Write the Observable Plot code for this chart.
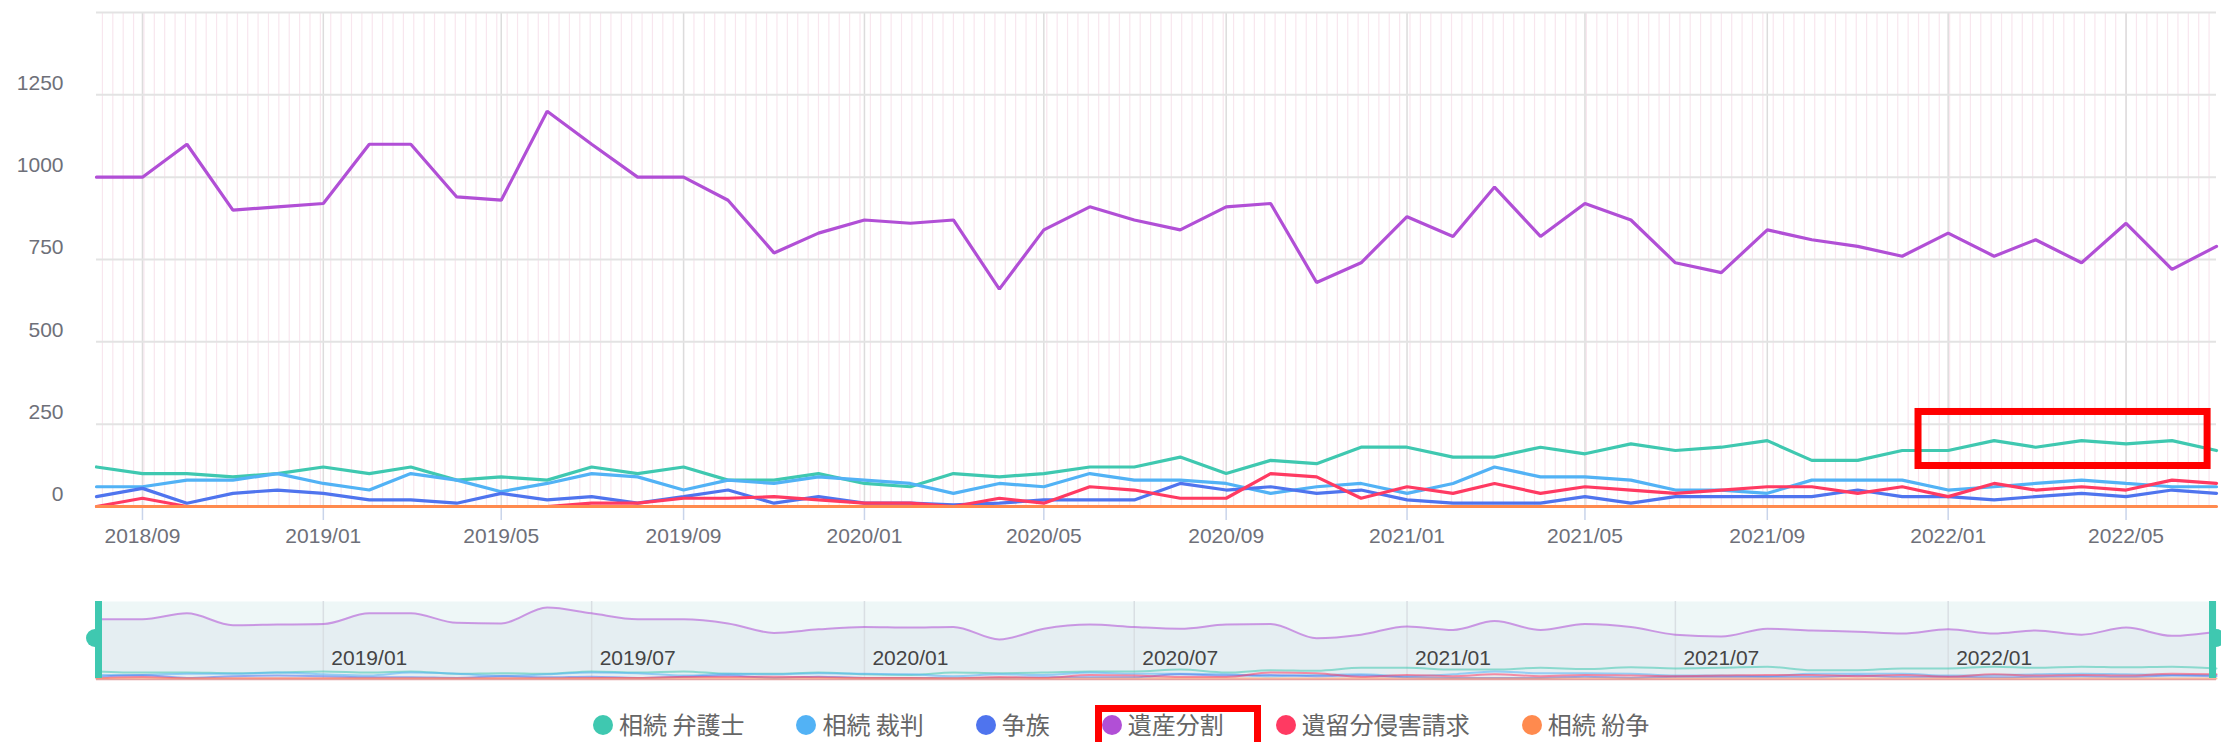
<!DOCTYPE html>
<html>
<head>
<meta charset="utf-8">
<script src="https://cdn.jsdelivr.net/npm/d3@7"></script>
<script src="https://cdn.jsdelivr.net/npm/@observablehq/plot@0.6"></script>
<style>
  html, body { margin: 0; padding: 0; background: #fff; }
  #root { position: relative; width: 2221px; height: 742px; overflow: hidden; font-family: "Liberation Sans", Arial, sans-serif; }
  #main { position: absolute; left: 0; top: 0; }
  #slider { position: absolute; left: 0; top: 590px; }
  .handle { position: absolute; background: #3fc8b0; }
  #legend { position: absolute; left: 593px; top: 711px; height: 26px; display: flex; align-items: center; gap: 52px;
            font-family: "Noto Sans CJK JP", "Noto Sans", sans-serif; font-size: 24px; line-height: 26px; color: #666; white-space: nowrap; }
  .item { position: relative; display: flex; align-items: center; height: 26px; }
  .dot { width: 20px; height: 20px; border-radius: 50%; margin-right: 6px; transform: translateY(1px); }
  .item.hl::after { content: ""; position: absolute; left: -7px; top: -6px; right: -37px; bottom: -40px; border: 7px solid #ff0000; }
</style>
</head>
<body>
<div id="root">
  <div id="main"></div>
  <div id="slider"></div>
  <div class="handle" style="left:95px;top:601px;width:7px;height:77px;"></div>
  <div class="handle" style="left:86px;top:629px;width:9px;height:18px;border-radius:9px 0 0 9px;"></div>
  <div class="handle" style="left:2209px;top:601px;width:7px;height:77px;"></div>
  <div class="handle" style="left:2216px;top:629px;width:9px;height:18px;border-radius:0 9px 9px 0;"></div>
  <div id="legend"></div>
</div>
<script>
// ---------- data ----------
const months = [
  "2018-08","2018-09","2018-10","2018-11","2018-12",
  "2019-01","2019-02","2019-03","2019-04","2019-05","2019-06","2019-07","2019-08","2019-09","2019-10","2019-11","2019-12",
  "2020-01","2020-02","2020-03","2020-04","2020-05","2020-06","2020-07","2020-08","2020-09","2020-10","2020-11","2020-12",
  "2021-01","2021-02","2021-03","2021-04","2021-05","2021-06","2021-07","2021-08","2021-09","2021-10","2021-11","2021-12",
  "2022-01","2022-02","2022-03","2022-04","2022-05","2022-06","2022-07"
];
const seriesNames = ["相続 弁護士", "相続 裁判", "争族", "遺産分割", "遺留分侵害請求", "相続 紛争"];
const seriesColors = ["#3fc8b0", "#52b2f5", "#4f74ee", "#b14fd6", "#ff3a62", "#ff8a4e"];

const bengoshi = [120,100,100,90,100,120,100,120,80,90,80,120,100,120,80,80,100,70,60,100,90,100,120,120,150,100,140,130,180,180,150,150,180,160,190,170,180,200,140,140,170,170,200,180,200,190,200,170];
const saiban   = [60,60,80,80,100,70,50,100,80,45,70,100,90,50,80,70,90,80,70,40,70,60,100,80,80,70,40,60,70,40,70,120,90,90,80,50,50,40,80,80,80,50,60,70,80,70,60,60];
const souzoku  = [30,55,10,40,50,40,20,20,10,40,20,30,10,30,50,10,30,10,10,5,10,20,20,20,70,50,60,40,50,20,10,10,10,30,10,30,30,30,30,50,30,30,20,30,40,30,50,40];
const isanBunkatsu = [1000,1000,1100,900,910,920,1100,1100,940,930,1200,1100,1000,1000,930,770,830,870,860,870,660,840,910,870,840,910,920,680,740,880,820,970,820,920,870,740,710,840,810,790,760,830,760,810,740,860,720,790];
const iryubun  = [0,25,0,0,0,0,0,0,0,0,0,10,10,25,25,30,20,10,10,0,25,10,60,50,25,25,100,90,25,60,40,70,40,60,50,40,50,60,60,40,60,30,70,50,60,50,80,70];
const funsou   = [0,0,0,0,0,0,0,0,0,0,0,0,0,0,0,0,0,0,0,0,0,0,0,0,0,0,0,0,0,0,0,0,0,0,0,0,0,0,0,0,0,0,0,0,0,0,0,0];

const xTickLabels = ["2018-09","2019-01","2019-05","2019-09","2020-01","2020-05","2020-09","2021-01","2021-05","2021-09","2022-01","2022-05"];
const sliderTickLabels = ["2019-01","2019-07","2020-01","2020-07","2021-01","2021-07","2022-01"];
const yTicks = [0, 250, 500, 750, 1000, 1250];
const yGridValues = [0, 250, 500, 750, 1000, 1250, 1500];
// annotation box (data coordinates)
const highlight = [{x1: "2021-12-12", x2: "2022-06-25", y1: 123, y2: 287}];

// ---------- build table ----------
const parse = d3.utcParse("%Y-%m");
const parseDay = d3.utcParse("%Y-%m-%d");
const allValues = [bengoshi, saiban, souzoku, isanBunkatsu, iryubun, funsou];
const rows = [];
seriesNames.forEach((name, s) => {
  months.forEach((m, i) => rows.push({series: name, date: parse(m), value: allValues[s][i]}));
});
const xTicks = xTickLabels.map(parse);
const sTicks = sliderTickLabels.map(parse);
const domainX = [parse(months[0]), parse(months[months.length - 1])];
const weeks = d3.utcWeek.range(domainX[0], domainX[1]);
const hl = highlight.map(d => ({x1: parseDay(d.x1), x2: parseDay(d.x2), y1: d.y1, y2: d.y2}));
const fmt = d3.utcFormat("%Y/%m");
const colorScale = {domain: seriesNames, range: seriesColors};

// ---------- main chart ----------
const main = Plot.plot({
  width: 2221,
  height: 560,
  marginLeft: 96,
  marginRight: 5,
  marginTop: 12,
  marginBottom: 54,
  style: {background: "transparent", fontFamily: "'Liberation Sans', Arial, sans-serif", fontSize: "21px", color: "#6e7079", overflow: "visible"},
  x: {type: "utc", domain: domainX},
  y: {domain: [0, 1500]},
  color: colorScale,
  marks: [
    Plot.ruleX(weeks, {x: d => d, stroke: "#f8e6ee", strokeWidth: 1.2}),
    Plot.gridX(xTicks, {stroke: "#dcdcdc", strokeOpacity: 1, strokeWidth: 1.5}),
    Plot.gridY(yGridValues, {stroke: "#e3e3e3", strokeOpacity: 1, strokeWidth: 2}),
    Plot.axisY(yTicks, {tickSize: 0, tickPadding: 33, dy: -12, tickFormat: d => String(d), fill: "#6e7079", fontSize: 21}),
    Plot.axisX(xTicks, {tickSize: 14, tickPadding: 8, stroke: "#c9d4ea", strokeWidth: 1.5, tickFormat: fmt, fill: "#6e7079", fontSize: 21}),
    Plot.ruleY([0], {stroke: "#d6dce8", strokeWidth: 1.5}),
    Plot.lineY(rows, {x: "date", y: "value", z: "series", stroke: "series", strokeWidth: 3.2, strokeLinejoin: "miter"}),
    Plot.rect(hl, {x1: "x1", x2: "x2", y1: "y1", y2: "y2", fill: "none", stroke: "#ff0000", strokeWidth: 7})
  ]
});
document.getElementById("main").appendChild(main);

// ---------- slider (data overview) ----------
const purpleRows = rows.filter(d => d.series === seriesNames[3]);
const slider = Plot.plot({
  width: 2221,
  height: 100,
  marginLeft: 96,
  marginRight: 5,
  marginTop: 11,
  marginBottom: 12,
  style: {background: "transparent", fontFamily: "'Liberation Sans', Arial, sans-serif", fontSize: "21px", overflow: "visible"},
  x: {type: "utc", domain: domainX, axis: null},
  y: {domain: [0, 1300], axis: null},
  color: colorScale,
  marks: [
    Plot.frame({fill: "#eef7f7", stroke: null}),
    Plot.areaY(purpleRows, {x: "date", y: "value", fill: "#dfe8ee", fillOpacity: 0.55, curve: "monotone-x"}),
    Plot.ruleX(sTicks, {x: d => d, stroke: "#d9dfe3", strokeWidth: 1.5}),
    Plot.lineY(rows, {x: "date", y: "value", z: "series", stroke: "series", strokeWidth: 2, strokeOpacity: 0.55, curve: "monotone-x"}),
    Plot.text(sTicks, {x: d => d, text: d => fmt(d), frameAnchor: "bottom", dy: -14, dx: 8, textAnchor: "start", fill: "#444", fontSize: 21}),
    Plot.ruleY([0], {stroke: "#e6a0a0", strokeWidth: 1.5, dy: 1})
  ]
});
document.getElementById("slider").appendChild(slider);

// ---------- legend ----------
const legend = document.getElementById("legend");
seriesNames.forEach((name, i) => {
  const item = document.createElement("div");
  item.className = "item" + (i === 3 ? " hl" : "");
  const dot = document.createElement("div");
  dot.className = "dot";
  dot.style.background = seriesColors[i];
  const label = document.createElement("span");
  label.textContent = name;
  item.appendChild(dot);
  item.appendChild(label);
  legend.appendChild(item);
});
</script>
</body>
</html>
